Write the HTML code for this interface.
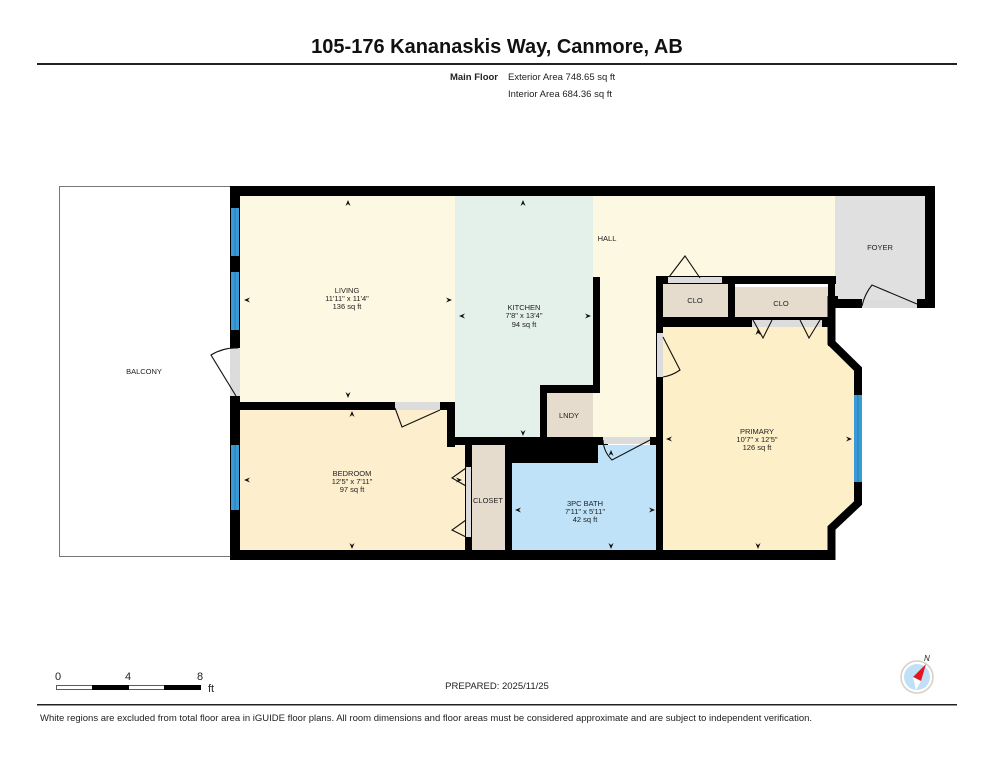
<!DOCTYPE html>
<html><head><meta charset="utf-8"><style>
html,body{margin:0;padding:0;background:#fff;}
body{width:993px;height:768px;overflow:hidden;font-family:"Liberation Sans",Arial,sans-serif;}
</style></head><body>
<svg width="993" height="768" viewBox="0 0 993 768" xmlns="http://www.w3.org/2000/svg" font-family="Liberation Sans, Arial, sans-serif">
<text x="497" y="53" text-anchor="middle" font-size="20" font-weight="bold" fill="#111">105-176 Kananaskis Way, Canmore, AB</text>
<rect x="37" y="63" width="920" height="2" fill="#222"/>
<text x="498" y="80" text-anchor="end" font-size="9.5" font-weight="bold" fill="#222">Main Floor</text>
<text x="508" y="80" font-size="9.5" fill="#222">Exterior Area 748.65 sq ft</text>
<text x="508" y="97" font-size="9.5" fill="#222">Interior Area 684.36 sq ft</text>

<rect x="59.5" y="186.5" width="172" height="370" fill="#fff" stroke="#777" stroke-width="1"/>
<text x="144" y="374" text-anchor="middle" font-size="7.5" fill="#222">BALCONY</text>

<rect x="238" y="194" width="220" height="212" fill="#fdf8e2"/>
<rect x="455" y="194" width="140" height="245" fill="#e4f1ea"/>
<rect x="593" y="194" width="245" height="86" fill="#fdf8e2"/>
<rect x="593" y="270" width="66" height="170" fill="#fdf8e2"/>
<rect x="835" y="194" width="92" height="108" fill="#e0e0e0"/>
<rect x="238" y="408" width="212" height="145" fill="#fdefcd"/>
<rect x="447" y="443" width="21" height="110" fill="#fdefcd"/>
<rect x="470" y="445" width="38" height="108" fill="#e6dccd"/>
<rect x="510" y="445" width="150" height="108" fill="#bfe2f8"/>
<polygon points="662,325 830,325 830,345 855,372 855,500 830,525 830,553 662,553" fill="#fdefc8"/>
<rect x="662" y="283" width="66" height="35" fill="#e6dccd"/>
<rect x="735" y="287" width="93" height="34" fill="#e6dccd"/>
<rect x="545" y="392" width="48" height="46" fill="#e6dccd"/>

<g fill="#000">
<rect x="230" y="186" width="705" height="10"/>
<rect x="230" y="186" width="10" height="374"/>
<rect x="230" y="550" width="605" height="10"/>
<rect x="925" y="186" width="10" height="122"/>
<rect x="835" y="299" width="27" height="9"/>
<rect x="917" y="299" width="18" height="9"/>
<rect x="240" y="402" width="212" height="8"/>
<rect x="447" y="402" width="8" height="45"/>
<rect x="447" y="437" width="161" height="8"/>
<rect x="508" y="437" width="90" height="26"/>
<rect x="465" y="445" width="7" height="115"/>
<rect x="505" y="445" width="7" height="115"/>
<rect x="540" y="385" width="60" height="8"/>
<rect x="540" y="385" width="7" height="55"/>
<rect x="593" y="277" width="7" height="116"/>
<rect x="650" y="437" width="10" height="8"/>
<rect x="656" y="276" width="7" height="284"/>
<rect x="656" y="276" width="180" height="8"/>
<rect x="728" y="276" width="7" height="48"/>
<rect x="656" y="317" width="175" height="10"/>
<rect x="828" y="276" width="7" height="70"/>
</g>
<polyline points="831.5,296 831.5,343 858,369 858,503 831.5,528 831.5,560" fill="none" stroke="#000" stroke-width="8"/>
<rect x="835" y="296" width="3" height="6" fill="#000"/>

<g fill="#3a9ad6">
<rect x="231" y="208" width="8" height="48"/>
<rect x="231" y="272" width="8" height="58"/>
<rect x="231" y="445" width="8" height="65"/>
<rect x="854" y="395" width="8" height="87"/>
</g>
<g stroke="#1a6aa0" stroke-width="0.6">
<line x1="235" y1="208" x2="235" y2="256"/><line x1="235" y1="272" x2="235" y2="330"/><line x1="235" y1="445" x2="235" y2="510"/><line x1="858" y1="395" x2="858" y2="482"/>
</g>

<g fill="#dcdcdc">
<rect x="230" y="348" width="10" height="48"/>
<rect x="395" y="402" width="45" height="8"/>
<rect x="466" y="467" width="5" height="70"/>
<rect x="668" y="277" width="54" height="6"/>
<rect x="752" y="320" width="70" height="7"/>
<rect x="657" y="333" width="6" height="44"/>
<rect x="862" y="300" width="55" height="8"/>
<rect x="603" y="437" width="47" height="7"/>
</g>
<g fill="none" stroke="#111" stroke-width="1.1">
<path d="M236,396 L211,355 A48,48 0 0 1 238,348"/>
<path d="M395,408 L402,427 L440,410"/>
<path d="M466,468 L452,478 L466,486 M466,520 L452,530 L466,537"/>
<path d="M669,277 L685,256 L700,278"/>
<path d="M753,320 L763,338 L772,320 M800,320 L809,338 L820,320"/>
<path d="M663,337 L680,370 A40,40 0 0 1 663,377"/>
<path d="M862,306 A50,50 0 0 1 872,285 L917,304"/>
<path d="M603,440 A30,30 0 0 0 612,460 L650,440"/>
</g>

<g fill="#111">
<path d="M348,200 l-2.5,6 l2.5,-2 l2.5,2z"/><path d="M348,398 l-2.5,-6 l2.5,2 l2.5,-2z"/>
<path d="M244,300 l6,-2.5 l-2,2.5 l2,2.5z"/><path d="M452,300 l-6,-2.5 l2,2.5 l-2,2.5z"/>
<path d="M523,200 l-2.5,6 l2.5,-2 l2.5,2z"/><path d="M523,436 l-2.5,-6 l2.5,2 l2.5,-2z"/>
<path d="M459,316 l6,-2.5 l-2,2.5 l2,2.5z"/><path d="M591,316 l-6,-2.5 l2,2.5 l-2,2.5z"/>
<path d="M352,411 l-2.5,6 l2.5,-2 l2.5,2z"/><path d="M352,549 l-2.5,-6 l2.5,2 l2.5,-2z"/>
<path d="M244,480 l6,-2.5 l-2,2.5 l2,2.5z"/><path d="M462,480 l-6,-2.5 l2,2.5 l-2,2.5z"/>
<path d="M515,510 l6,-2.5 l-2,2.5 l2,2.5z"/><path d="M655,510 l-6,-2.5 l2,2.5 l-2,2.5z"/>
<path d="M611,450 l-2.5,6 l2.5,-2 l2.5,2z"/><path d="M611,549 l-2.5,-6 l2.5,2 l2.5,-2z"/>
<path d="M758,329 l-2.5,6 l2.5,-2 l2.5,2z"/><path d="M758,549 l-2.5,-6 l2.5,2 l2.5,-2z"/>
<path d="M666,439 l6,-2.5 l-2,2.5 l2,2.5z"/><path d="M852,439 l-6,-2.5 l2,2.5 l-2,2.5z"/>
</g>

<g font-size="7.5" fill="#222" text-anchor="middle">
<text x="347" y="293">LIVING</text><text x="347" y="301">11'11" x 11'4"</text><text x="347" y="309">136 sq ft</text>
<text x="524" y="310">KITCHEN</text><text x="524" y="318">7'8" x 13'4"</text><text x="524" y="327">94 sq ft</text>
<text x="607" y="241">HALL</text>
<text x="880" y="250">FOYER</text>
<text x="695" y="303">CLO</text>
<text x="781" y="306">CLO</text>
<text x="569" y="418">LNDY</text>
<text x="352" y="476">BEDROOM</text><text x="352" y="484">12'5" x 7'11"</text><text x="352" y="492">97 sq ft</text>
<text x="488" y="503">CLOSET</text>
<text x="585" y="506">3PC BATH</text><text x="585" y="514">7'11" x 5'11"</text><text x="585" y="522">42 sq ft</text>
<text x="757" y="434">PRIMARY</text><text x="757" y="442">10'7" x 12'5"</text><text x="757" y="450">126 sq ft</text>
</g>

<g font-size="11" fill="#222">
<text x="58" y="680" text-anchor="middle">0</text>
<text x="128" y="680" text-anchor="middle">4</text>
<text x="200" y="680" text-anchor="middle">8</text>
<text x="208" y="692">ft</text>
</g>
<rect x="56.5" y="685.5" width="144" height="4" fill="#fff" stroke="#333" stroke-width="0.8"/>
<rect x="92" y="685" width="37" height="5" fill="#000"/>
<rect x="164" y="685" width="37" height="5" fill="#000"/>
<text x="497" y="689" text-anchor="middle" font-size="9.5" fill="#222">PREPARED: 2025/11/25</text>
<circle cx="917" cy="677" r="16" fill="#fff" stroke="#d8cfc4" stroke-width="1.5"/>
<circle cx="917" cy="677" r="13" fill="#bfe0f6"/>
<polygon points="926,664 913,677 921,681" fill="#e01820"/>
<polygon points="913,677 921,681 916,690" fill="#fff"/>
<text x="924" y="661" font-size="8" fill="#222" font-style="italic">N</text>

<rect x="37" y="704" width="920" height="1.5" fill="#222"/>
<text x="40" y="721" font-size="9.5" fill="#222">White regions are excluded from total floor area in iGUIDE floor plans. All room dimensions and floor areas must be considered approximate and are subject to independent verification.</text>
</svg>
</body></html>
